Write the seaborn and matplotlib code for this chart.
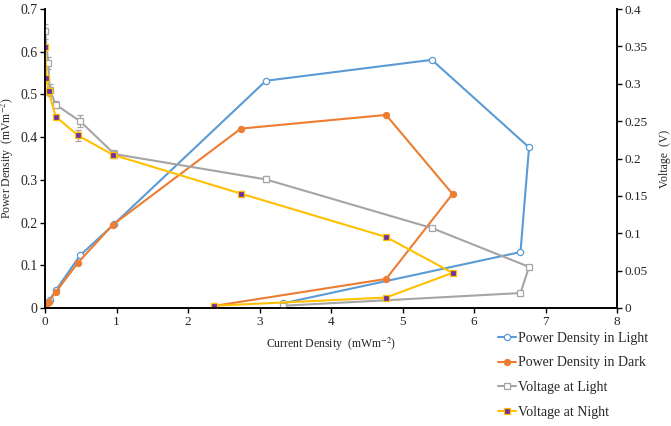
import numpy as np
import pandas as pd
import seaborn as sns
import matplotlib.pyplot as plt

# datos
current_light = [0, 0.045, 0.065, 0.15, 0.49, 0.97, 3.09, 5.41, 6.77, 6.65, 3.33]
power_light = [0, 0.015, 0.019, 0.041, 0.123, 0.197, 0.532, 0.581, 0.376, 0.131, 0.011]
volt_light = [0.370, 0.328, 0.292, 0.272, 0.250, 0.206, 0.172, 0.107, 0.055, 0.020, 0.003]
err_light = [0.010, 0.008, 0.008, 0.005, 0.008, 0.005, 0.004, 0.002, 0.002, 0.002, 0.002]

current_dark = [0, 0.02, 0.05, 0.15, 0.46, 0.95, 2.74, 4.77, 5.70, 4.77, 2.37]
power_dark = [0, 0.008, 0.015, 0.037, 0.106, 0.195, 0.420, 0.452, 0.267, 0.068, 0.005]
volt_night = [0.349, 0.308, 0.290, 0.256, 0.231, 0.205, 0.153, 0.095, 0.047, 0.014, 0.003]
err_night = [0.003, 0.003, 0.005, 0.003, 0.007, 0.004, 0.004, 0.002, 0.002, 0.002, 0.002]

BLUE = '#5B9BD5'
ORANGE = '#ED7D31'
GRAY = '#A5A5A5'
YELLOW = '#FFC000'
PURPLE = '#7030A0'

sns.set_style('white')
plt.rcParams['font.family'] = ['Liberation Serif', 'DejaVu Serif']
plt.rcParams['mathtext.fontset'] = 'stix'

df_light = pd.DataFrame({'I': current_light, 'P': power_light, 'V': volt_light})
df_dark = pd.DataFrame({'I': current_dark, 'P': power_dark, 'V': volt_night})

fig = plt.figure(figsize=(6.71, 4.26), dpi=100)
ax = fig.add_axes([45 / 671, 1 - 308 / 426, 572 / 671, 299 / 426])
ax2 = ax.twinx()

# estimator=None para no promediar x repetidos
sns.lineplot(data=df_light, x='I', y='P', ax=ax, sort=False, estimator=None, color=BLUE, lw=1.5,
             marker='o', markersize=4.5, markerfacecolor='white', markeredgecolor=BLUE,
             markeredgewidth=0.9, label='Power Density in Light', legend=False)
sns.lineplot(data=df_dark, x='I', y='P', ax=ax, sort=False, estimator=None, color=ORANGE, lw=1.5,
             marker='o', markersize=4.5, markeredgecolor=ORANGE,
             label='Power Density in Dark', legend=False)

ax2.errorbar(current_light, volt_light, yerr=err_light, fmt='none', ecolor=GRAY,
             elinewidth=0.9, capsize=2.5, capthick=0.9)
sns.lineplot(data=df_light, x='I', y='V', ax=ax2, sort=False, estimator=None, color=GRAY, lw=1.5,
             marker='s', markersize=4.5, markerfacecolor='white', markeredgecolor=GRAY,
             markeredgewidth=0.9, label='Voltage at Light', legend=False)
ax2.errorbar(current_dark, volt_night, yerr=err_night, fmt='none', ecolor=GRAY,
             elinewidth=0.9, capsize=2.5, capthick=0.9)
sns.lineplot(data=df_dark, x='I', y='V', ax=ax2, sort=False, estimator=None, color=YELLOW, lw=1.5,
             marker='s', markersize=5, markerfacecolor=PURPLE, markeredgecolor=YELLOW,
             markeredgewidth=0.9, label='Voltage at Night', legend=False)

ax.set_xlim(0, 8)
ax.set_ylim(0, 0.7)
ax2.set_ylim(0, 0.4)
ax.set_xticks(range(0, 9))
ax.set_yticks(np.arange(0, 0.71, 0.1))
ax.set_yticklabels(['0'] + ['%.1f' % v for v in np.arange(0.1, 0.71, 0.1)])
ax2.set_yticks(np.arange(0, 0.41, 0.05))
ax2.set_yticklabels(['0'] + ['%g' % round(v, 2) for v in np.arange(0.05, 0.41, 0.05)])

for a in (ax, ax2):
    a.spines['top'].set_visible(False)
    for s in ('left', 'right', 'bottom'):
        a.spines[s].set_color('black')
        a.spines[s].set_linewidth(1.2)
    a.tick_params(labelsize=9.5, length=3.5, width=1, direction='out', pad=2, color='black')
ax.tick_params(axis='y', labelsize=10)
ax.tick_params(axis='x', bottom=True)
ax.tick_params(axis='y', left=True)
ax2.tick_params(axis='y', right=True)

ax.set_xlabel('Current Density  (mWm$^{-2}$)', fontsize=8.5, labelpad=6)
ax.set_ylabel('Power Density  (mVm$^{-2}$)', fontsize=8.5, labelpad=3)
ax2.set_ylabel('Voltage  (V)', fontsize=8.5, labelpad=8)

h1, l1 = ax.get_legend_handles_labels()
h2, l2 = ax2.get_legend_handles_labels()
fig.legend(h1 + h2, l1 + l2, loc='upper left', bbox_to_anchor=(492 / 671, 1 - 326 / 426),
           frameon=False, fontsize=10, labelspacing=0.85, handlelength=1.3,
           handletextpad=0.2, borderaxespad=0)

fig.savefig('out.png', dpi=100)
